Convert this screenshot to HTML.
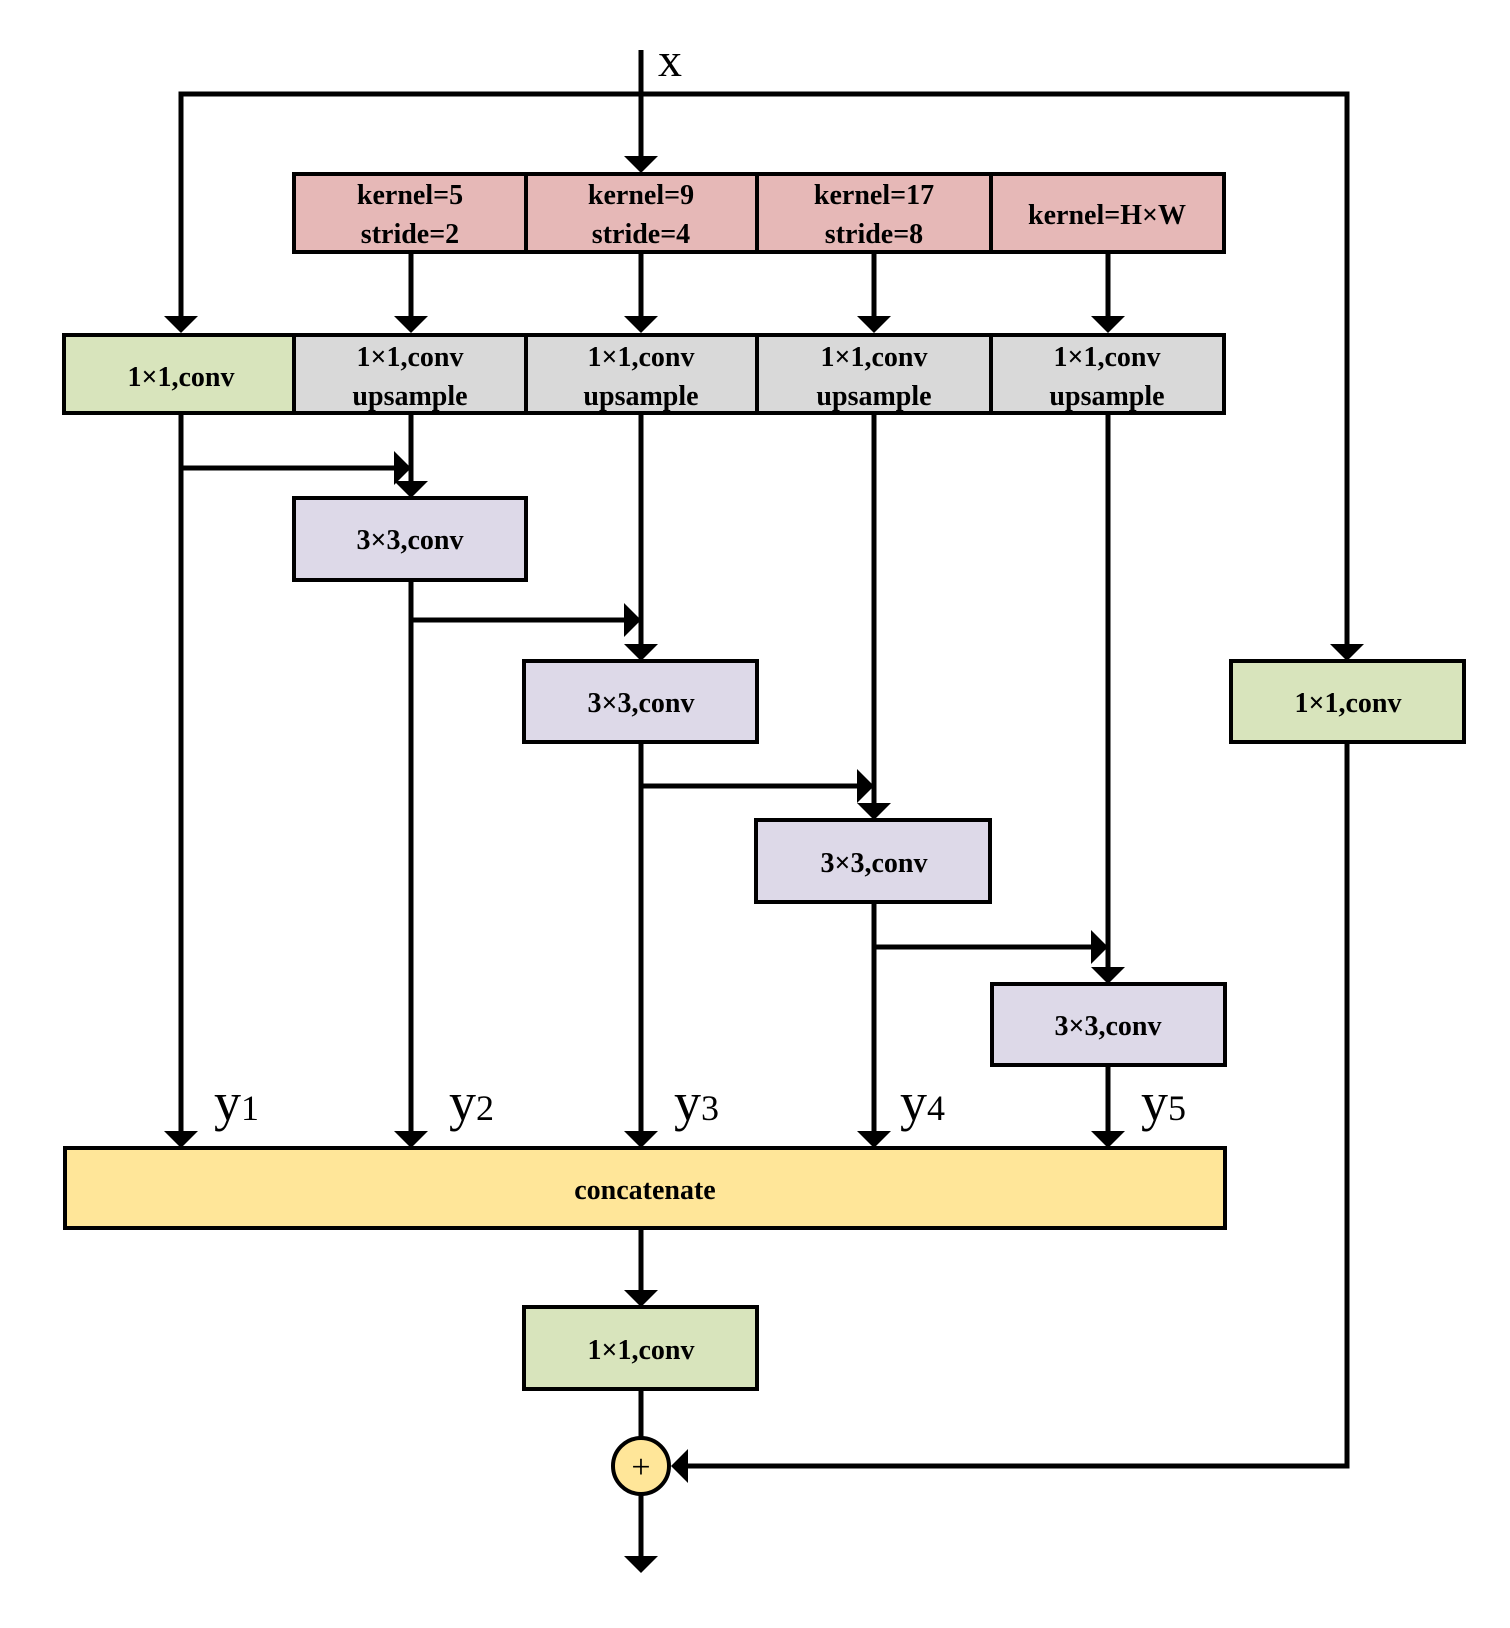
<!DOCTYPE html>
<html><head><meta charset="utf-8"><style>
html,body{margin:0;padding:0;background:#fff;}
svg{display:block;}
text{font-family:"Liberation Serif",serif;}
.b{font-weight:bold;font-size:28px;text-anchor:middle;}
</style></head><body>
<svg width="1510" height="1628" viewBox="0 0 1510 1628" xmlns="http://www.w3.org/2000/svg">
<defs>
<marker id="ad" markerWidth="10" markerHeight="10" refX="8" refY="5" orient="auto" markerUnits="userSpaceOnUse" viewBox="0 0 10 10">
</marker>
</defs>
<g stroke="#000" stroke-width="5" fill="none">
<!-- input line -->
<line x1="641" y1="50" x2="641" y2="158"/>
<polyline points="181,319 181,94 1347,94 1347,647"/>
<!-- kernel to row2 -->
<line x1="411" y1="252" x2="411" y2="319"/>
<line x1="641" y1="252" x2="641" y2="319"/>
<line x1="874" y1="252" x2="874" y2="319"/>
<line x1="1108" y1="252" x2="1108" y2="319"/>
<!-- columns -->
<line x1="181" y1="413" x2="181" y2="1134"/>
<line x1="411" y1="413" x2="411" y2="484"/>
<line x1="411" y1="580" x2="411" y2="1134"/>
<line x1="641" y1="413" x2="641" y2="647"/>
<line x1="641" y1="742" x2="641" y2="1134"/>
<line x1="874" y1="413" x2="874" y2="806"/>
<line x1="874" y1="902" x2="874" y2="1134"/>
<line x1="1108" y1="413" x2="1108" y2="970"/>
<line x1="1108" y1="1065" x2="1108" y2="1134"/>
<!-- side arrows -->
<line x1="181" y1="468" x2="398" y2="468"/>
<line x1="411" y1="620" x2="628" y2="620"/>
<line x1="641" y1="786" x2="861" y2="786"/>
<line x1="874" y1="947" x2="1095" y2="947"/>
<!-- bottom -->
<line x1="641" y1="1228" x2="641" y2="1293"/>
<line x1="641" y1="1389" x2="641" y2="1437"/>
<line x1="641" y1="1495" x2="641" y2="1558"/>
<polyline points="1347,742 1347,1466 684,1466"/>
</g>
<g fill="#000">
<!-- down arrowheads -->
<polygon points="624,156 658,156 641,173"/>
<polygon points="164,316 198,316 181,333"/>
<polygon points="394,316 428,316 411,333"/>
<polygon points="624,316 658,316 641,333"/>
<polygon points="857,316 891,316 874,333"/>
<polygon points="1091,316 1125,316 1108,333"/>
<polygon points="394,481 428,481 411,498"/>
<polygon points="624,644 658,644 641,661"/>
<polygon points="857,803 891,803 874,820"/>
<polygon points="1091,967 1125,967 1108,984"/>
<polygon points="1330,644 1364,644 1347,661"/>
<polygon points="164,1131 198,1131 181,1148"/>
<polygon points="394,1131 428,1131 411,1148"/>
<polygon points="624,1131 658,1131 641,1148"/>
<polygon points="857,1131 891,1131 874,1148"/>
<polygon points="1091,1131 1125,1131 1108,1148"/>
<polygon points="624,1290 658,1290 641,1307"/>
<polygon points="624,1556 658,1556 641,1573"/>
<!-- right arrowheads -->
<polygon points="394,451 394,485 411,468"/>
<polygon points="624,603 624,637 641,620"/>
<polygon points="857,769 857,803 874,786"/>
<polygon points="1091,930 1091,964 1108,947"/>
<!-- left arrowhead into circle -->
<polygon points="688,1449 688,1483 671,1466"/>
</g>
<g stroke="#000" stroke-width="4">
<!-- kernel row -->
<rect x="294" y="174" width="930" height="78" fill="#e6b8b7"/>
<line x1="526" y1="174" x2="526" y2="252"/>
<line x1="757" y1="174" x2="757" y2="252"/>
<line x1="991" y1="174" x2="991" y2="252"/>
<!-- row 2 -->
<rect x="64" y="335" width="1160" height="78" fill="#d9d9d9"/>
<rect x="64" y="335" width="230" height="78" fill="#d8e4bc"/>
<line x1="526" y1="335" x2="526" y2="413"/>
<line x1="757" y1="335" x2="757" y2="413"/>
<line x1="991" y1="335" x2="991" y2="413"/>
<!-- 3x3 -->
<rect x="294" y="498" width="232" height="82" fill="#ddd9e8"/>
<rect x="524" y="661" width="233" height="81" fill="#ddd9e8"/>
<rect x="756" y="820" width="234" height="82" fill="#ddd9e8"/>
<rect x="992" y="984" width="233" height="81" fill="#ddd9e8"/>
<rect x="1231" y="661" width="233" height="81" fill="#d8e4bc"/>
<rect x="65" y="1148" width="1160" height="80" fill="#ffe699"/>
<rect x="524" y="1307" width="233" height="82" fill="#d8e4bc"/>
<circle cx="641" cy="1466" r="28" fill="#ffe699"/>
</g>
<g class="b">
<text class="b" x="410" y="204">kernel=5</text><text class="b" x="410" y="243">stride=2</text>
<text class="b" x="641" y="204">kernel=9</text><text class="b" x="641" y="243">stride=4</text>
<text class="b" x="874" y="204">kernel=17</text><text class="b" x="874" y="243">stride=8</text>
<text class="b" x="1107" y="224">kernel=H×W</text>
<text class="b" x="181" y="386">1×1,conv</text>
<text class="b" x="410" y="366">1×1,conv</text><text class="b" x="410" y="405">upsample</text>
<text class="b" x="641" y="366">1×1,conv</text><text class="b" x="641" y="405">upsample</text>
<text class="b" x="874" y="366">1×1,conv</text><text class="b" x="874" y="405">upsample</text>
<text class="b" x="1107" y="366">1×1,conv</text><text class="b" x="1107" y="405">upsample</text>
<text class="b" x="410" y="549">3×3,conv</text>
<text class="b" x="641" y="712">3×3,conv</text>
<text class="b" x="874" y="872">3×3,conv</text>
<text class="b" x="1108" y="1035">3×3,conv</text>
<text class="b" x="1348" y="712">1×1,conv</text>
<text class="b" x="645" y="1199">concatenate</text>
<text class="b" x="641" y="1359">1×1,conv</text>
</g>
<text x="641" y="1478" font-size="34" text-anchor="middle">+</text>
<text x="658" y="76" font-size="48">x</text>
<g font-size="54">
<text x="214" y="1120">y<tspan font-size="36">1</tspan></text>
<text x="449" y="1120">y<tspan font-size="36">2</tspan></text>
<text x="674" y="1120">y<tspan font-size="36">3</tspan></text>
<text x="900" y="1120">y<tspan font-size="36">4</tspan></text>
<text x="1141" y="1120">y<tspan font-size="36">5</tspan></text>
</g>
</svg>
</body></html>
